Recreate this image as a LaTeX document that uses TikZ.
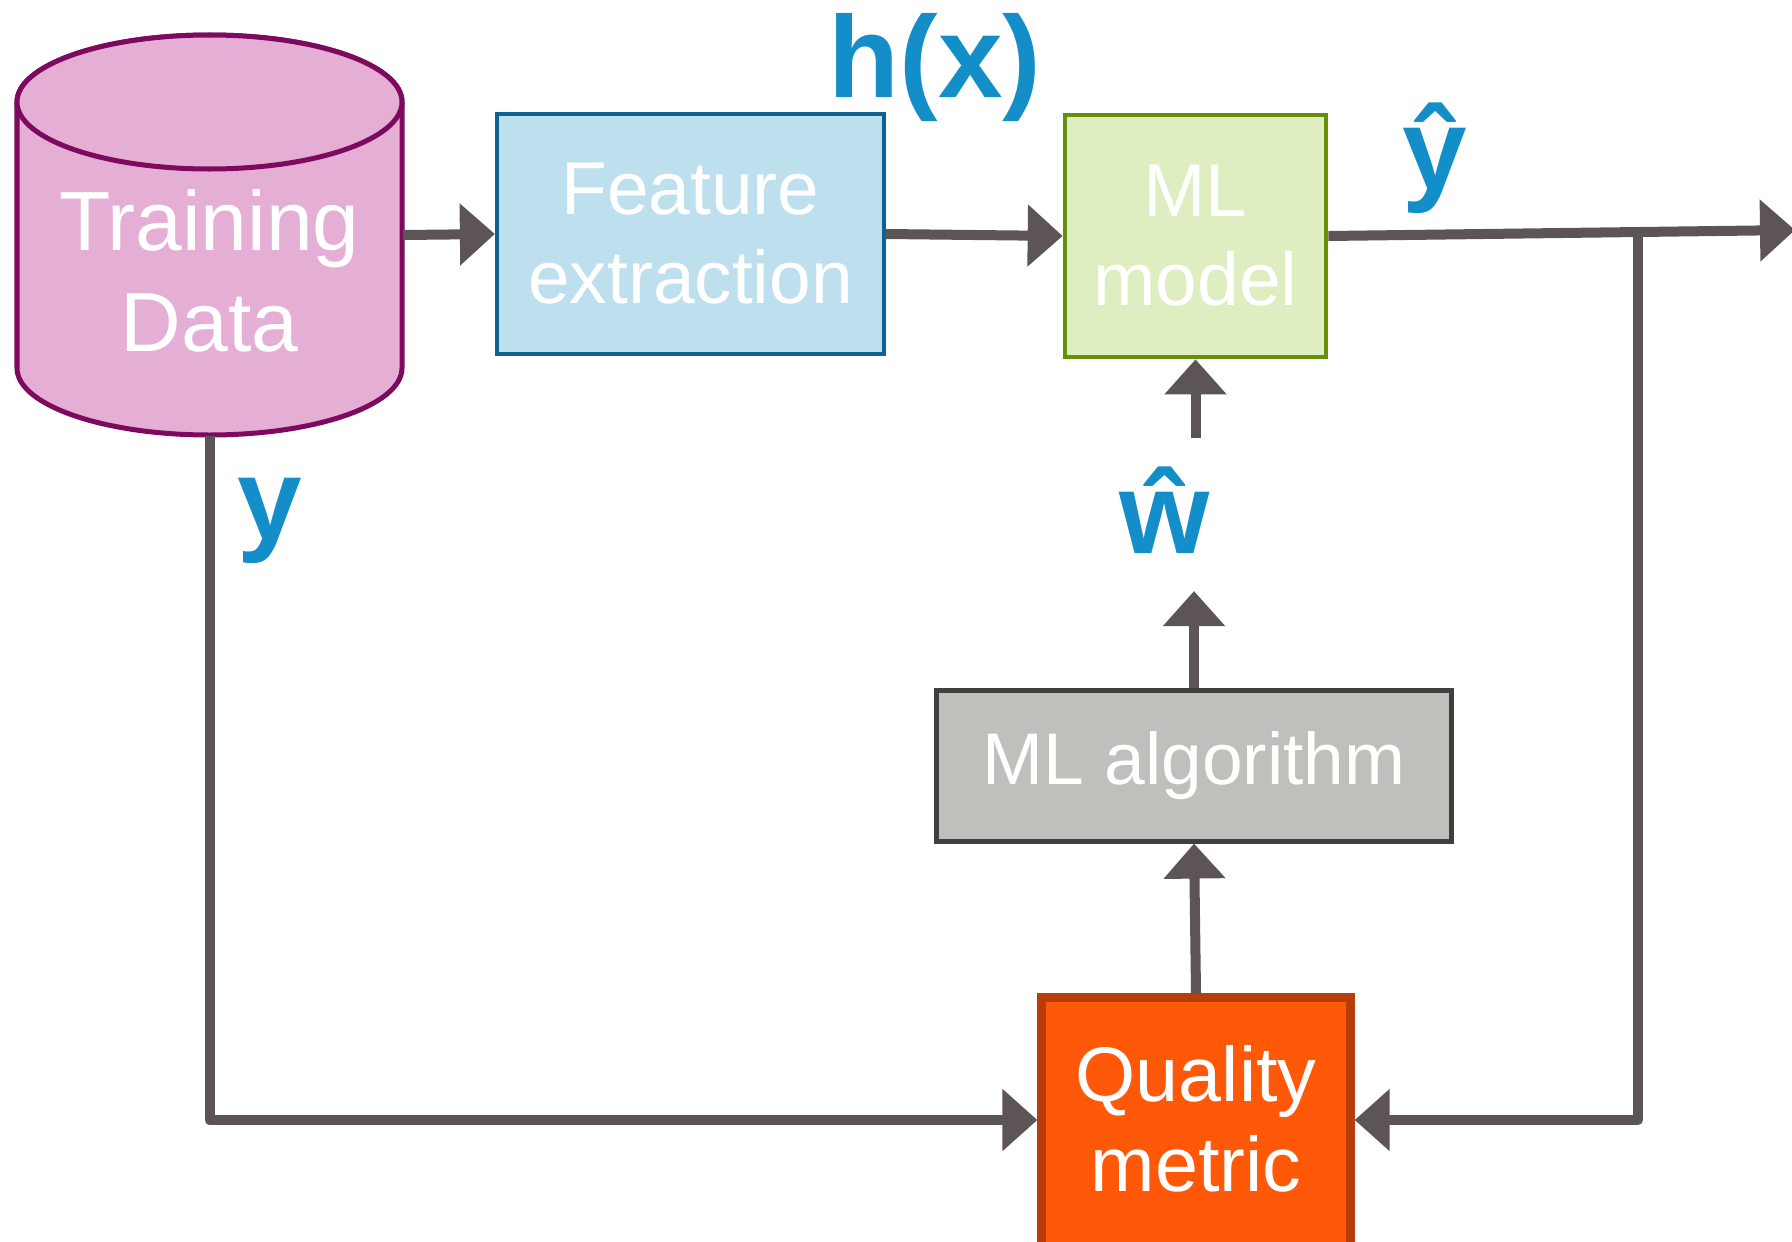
\documentclass[tikz,border=0pt]{standalone}
\usepackage{fontspec}
\setmainfont{Liberation Sans}
\usetikzlibrary{arrows.meta}

\definecolor{cylfill}{HTML}{E5AFD5}
\definecolor{cylline}{HTML}{7D0A5F}
\definecolor{fefill}{HTML}{BEE0EE}
\definecolor{feline}{HTML}{0E6491}
\definecolor{mlfill}{HTML}{DFEEC0}
\definecolor{mlline}{HTML}{66900A}
\definecolor{algfill}{HTML}{C1BFBC}
\definecolor{algline}{HTML}{3F3F3F}
\definecolor{qmfill}{HTML}{FE5808}
\definecolor{qmline}{HTML}{B83D0A}
\definecolor{arrowc}{HTML}{5D5456}
\definecolor{labelblue}{HTML}{148EC8}

\begin{document}
\begin{tikzpicture}[x=0.01cm,y=0.01cm,
  box/.style={draw, rectangle, inner sep=0pt, text=white, align=center},
  conn/.style={draw=arrowc, line width=0.1cm, line join=round,
    -{Triangle[length=0.35cm,width=0.6cm]}},
  lbl/.style={text=labelblue, inner sep=0pt, anchor=base,
    font=\bfseries\fontsize{33pt}{38pt}\selectfont},
  bodytext/.style={text=white, align=center, inner sep=0pt,
    font=\fontsize{21.3pt}{25.3pt}\selectfont}]

\useasboundingbox (0,0) rectangle (1792,1241);
\clip (0,0) rectangle (1792,1241);

% training data store: cylinder body and top face
\filldraw[fill=cylfill, draw=cylline, line width=0.05cm]
  (17,1139) -- (17,873)
  arc[start angle=180, end angle=360, x radius=192.5, y radius=67]
  -- (402,1139)
  arc[start angle=0, end angle=180, x radius=192.5, y radius=67] -- cycle;
\filldraw[fill=cylfill, draw=cylline, line width=0.05cm]
  (209.5,1139) ellipse [x radius=192.5, y radius=67];
\node[inner sep=0pt, minimum width=3.85cm, minimum height=4cm] (cyl) at (209.5,1006) {};
\node[text=white, align=center, inner sep=0pt,
  font=\fontsize{23.9pt}{28.7pt}\selectfont] (tdtext) at (209.5,970.5) {Training\\Data};

% processing blocks
\node[box, fill=fefill, draw=feline, line width=0.04cm,
  minimum width=3.87cm, minimum height=2.4cm,
  font=\fontsize{21.3pt}{25.3pt}\selectfont] (fe) at (690.5,1007) {Feature\\extraction};
\node[box, fill=mlfill, draw=mlline, line width=0.045cm,
  minimum width=2.61cm, minimum height=2.42cm,
  font=\fontsize{21.3pt}{25.3pt}\selectfont] (ml) at (1195.5,1005) {ML\\model};
\node[box, fill=algfill, draw=algline, line width=0.05cm,
  minimum width=5.14cm, minimum height=1.5cm,
  font=\fontsize{20.8pt}{25pt}\selectfont] (alg) at (1194,475) {ML algorithm};
\node[box, fill=qmfill, draw=qmline, line width=0.09cm,
  minimum width=3.08cm, minimum height=2.62cm] (qm) at (1196,112) {};
\node[bodytext, font=\fontsize{22pt}{25.6pt}\selectfont] (qmtext) at (1196,122.5) {Quality\\metric};

% blue labels
\node[lbl] (hx) at (935,1144) {h(x)};
\node[lbl] (yhat) at (1435,1052) {ŷ};
\node[lbl] (what) at (1165,688) {ŵ};
\node[lbl] (ylab) at (270,702) {y};

% connectors
\coordinate (out) at (1795,1011);
\coordinate (br) at (1638,1008);
\draw[conn] (cyl.east) -- (fe.west);
\draw[conn] (fe.east) -- (ml.west);
\draw[conn] (ml.east) -- (out);
\draw[conn] (br) |- ([yshift=0.09cm]qm.east);
\draw[conn] (cyl.south) |- ([yshift=0.09cm]qm.west);
\draw[conn] (qm.north) -- (alg.south);
\draw[conn, shorten >=0.38cm] (alg.north) -- (alg.north |- what.base);
\draw[conn, shorten <=0.28cm] (ml.south |- what.north) -- (ml.south);
\end{tikzpicture}
\end{document}
